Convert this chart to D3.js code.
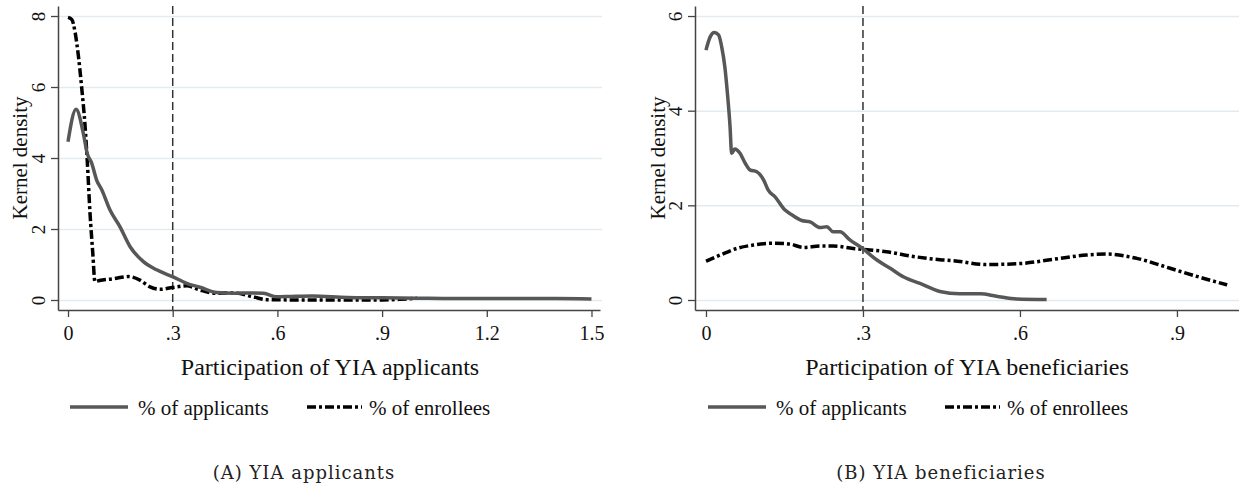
<!DOCTYPE html>
<html>
  <head>
    <script src="https://cdnjs.cloudflare.com/ajax/libs/d3/7.8.5/d3.min.js"></script>
    <meta charset="utf-8">
    <title>Kernel density</title>
    <style>
      body { margin: 0; background: #fff; }
      svg text { font-family: "Liberation Serif", "Times New Roman", serif; fill: #111; }
    </style>
  </head>
  <body>
    <script>
      // panel A: participation of YIA applicants
      var appA_x = [0, .023, .044, .055, .068, .082, .097, .12, .149, .178, .216, .254, .299, .34, .378, .426, .473, .52, .56, .598, .64, .7, .8, .9, 1.0, 1.1, 1.2, 1.3, 1.4, 1.5];
      var appA_y = [4.46, 5.37, 4.69, 4.13, 3.85, 3.38, 3.1, 2.54, 2.06, 1.5, 1.08, .85, .66, .47, .36, .21, .19, .2, .19, .09, .1, .11, .07, .06, .05, .04, .04, .04, .04, .03];
      var enrA_x = [0, .011, .02, .03, .039, .049, .055, .063, .071, .077, .09, .13, .173, .206, .235, .264, .299, .34, .378, .426, .473, .53, .57, .7, .8, .9, .95, 1.0];
      var enrA_y = [7.96, 7.9, 7.56, 6.85, 6.0, 4.88, 3.94, 2.45, 1.32, .52, .55, .6, .66, .56, .37, .3, .35, .4, .28, .19, .2, .09, .01, 0, 0, 0, .02, .05];
      // panel B: participation of YIA beneficiaries
      var appB_x = [0, .008, .016, .024, .03, .036, .041, .046, .049, .055, .065, .075, .084, .097, .11, .119, .132, .151, .164, .183, .199, .218, .231, .243, .256, .275, .299, .326, .352, .377, .409, .447, .485, .524, .555, .594, .651];
      var appB_y = [5.28, 5.56, 5.65, 5.6, 5.35, 4.93, 4.36, 3.66, 3.1, 3.19, 3.1, 2.89, 2.75, 2.71, 2.54, 2.32, 2.18, 1.9, 1.8, 1.68, 1.65, 1.53, 1.55, 1.44, 1.44, 1.27, 1.09, .85, .67, .49, .35, .18, .13, .13, .08, .02, .01];
      var enrB_x = [0, .027, .059, .09, .129, .161, .186, .218, .243, .281, .3, .345, .396, .447, .473, .536, .6, .664, .727, .766, .823, .887, .95, .996];
      var enrB_y = [.82, .95, 1.09, 1.16, 1.2, 1.18, 1.11, 1.14, 1.14, 1.09, 1.07, 1.02, .92, .85, .83, .75, .77, .86, .95, .97, .88, .67, .46, .32];

      var xTicksA = [0, .3, .6, .9, 1.2, 1.5];
      var yTicksA = [0, 2, 4, 6, 8];
      var xTicksB = [0, .3, .6, .9];
      var yTicksB = [0, 2, 4, 6];
      var cutoff = 0.3;
      var seriesNames = ["% of applicants", "% of enrollees"];

      var svg = d3.select("body").append("svg")
                  .attr("width", 1239)
                  .attr("height", 488);

      // .3 style labels, no leading zero
      var fmtX = function (d) { return d === 0 ? "0" : d3.format(".1f")(d).replace(/^0/, ""); };
      var fmtY = d3.format("d");

      function pair(xs, ys) {
        return xs.map(function (x, i) { return [x, ys[i]]; });
      }

      function drawPanel(p) {
        var g = svg.append("g");
        var x = d3.scaleLinear().domain(p.xDomain).range(p.xRange);
        var y = d3.scaleLinear().domain(p.yDomain).range([310, 6]);

        // grid
        g.append("g")
         .attr("transform", "translate(" + p.xRange[0] + ",0)")
         .call(d3.axisLeft(y).tickValues(p.yTicks).tickSize(-(p.gridEnd - p.xRange[0])).tickFormat(""))
         .call(function (s) {
           s.select(".domain").remove();
           s.selectAll("line").attr("stroke", "#e1ebf0").attr("stroke-width", 1.5);
         });

        // y axis
        g.append("g")
         .attr("transform", "translate(" + p.xRange[0] + ",0)")
         .call(d3.axisLeft(y).tickValues(p.yTicks).tickSize(7).tickSizeOuter(0).tickFormat(fmtY))
         .call(function (s) {
           s.select(".domain").attr("stroke", "#444").attr("stroke-width", 1.5);
           s.selectAll(".tick line").attr("stroke", "#444").attr("stroke-width", 1.3);
           s.selectAll(".tick text")
            .attr("x", null).attr("dy", null)
            .attr("transform", "translate(-13,0) rotate(-90)")
            .attr("text-anchor", "middle")
            .style("font-size", "19px")
            .style("font-family", "Liberation Serif");
         });

        // x axis
        g.append("g")
         .attr("transform", "translate(0,310)")
         .call(d3.axisBottom(x).tickValues(p.xTicks).tickSize(7).tickSizeOuter(0).tickFormat(fmtX))
         .call(function (s) {
           s.select(".domain").attr("stroke", "#444").attr("stroke-width", 1.5);
           s.selectAll(".tick line").attr("stroke", "#444").attr("stroke-width", 1.3);
           s.selectAll(".tick text")
            .attr("dy", null).attr("y", 30)
            .style("font-size", "20px")
            .style("font-family", "Liberation Serif");
         });

        // cutoff line
        g.append("line")
         .attr("x1", x(cutoff)).attr("x2", x(cutoff))
         .attr("y1", 6).attr("y2", 310)
         .attr("stroke", "#333").attr("stroke-width", 1.5)
         .attr("stroke-dasharray", "8,4");

        var line = d3.line()
                     .x(function (d) { return x(d[0]); })
                     .y(function (d) { return y(d[1]); })
                     .curve(d3.curveMonotoneX);

        g.append("path")
         .datum(pair(p.encX, p.encY))
         .attr("d", line)
         .attr("fill", "none")
         .attr("stroke", "#000")
         .attr("stroke-width", 3.5)
         .attr("stroke-dasharray", "9,3,3,3");

        g.append("path")
         .datum(pair(p.appX, p.appY))
         .attr("d", line)
         .attr("fill", "none")
         .attr("stroke", "#575757")
         .attr("stroke-width", 3.5)
         .attr("stroke-linejoin", "round");

        // axis titles
        g.append("text")
         .attr("transform", "translate(" + p.yTitleX + ",158) rotate(-90)")
         .attr("text-anchor", "middle")
         .style("font-size", "21px")
         .text("Kernel density");

        g.append("text")
         .attr("x", (p.xRange[0] + p.gridEnd) / 2)
         .attr("y", 375)
         .attr("text-anchor", "middle")
         .style("font-size", "24px")
         .text(p.xTitle);

        // legend
        var lg = g.append("g").attr("transform", "translate(" + p.legendX + ",407)");
        lg.append("line").attr("x1", 0).attr("x2", 58).attr("y1", 0).attr("y2", 0)
          .attr("stroke", "#575757").attr("stroke-width", 3.5);
        lg.append("text").attr("x", 68).attr("y", 8).style("font-size", "21px").text(seriesNames[0]);
        lg.append("line").attr("x1", p.legendGap).attr("x2", p.legendGap + 55).attr("y1", 0).attr("y2", 0)
          .attr("stroke", "#000").attr("stroke-width", 3.5).attr("stroke-dasharray", "9,3,3,3");
        lg.append("text").attr("x", p.legendGap + 62).attr("y", 8).style("font-size", "21px").text(seriesNames[1]);

        // caption
        g.append("text")
         .attr("x", p.captionX)
         .attr("y", 479)
         .attr("text-anchor", "middle")
         .style("font-family", "'DejaVu Serif', serif")
         .style("font-size", "18px")
         .style("letter-spacing", "1px")
         .style("fill", "#222")
         .text(p.caption);
      }

      drawPanel({
        xDomain: [-0.0287, 1.5244], xRange: [58, 600], gridEnd: 602,
        yDomain: [-0.2817, 8.282],
        xTicks: xTicksA, yTicks: yTicksA,
        appX: appA_x, appY: appA_y, encX: enrA_x, encY: enrA_y,
        yTitleX: 27, xTitle: "Participation of YIA applicants",
        legendX: 70, legendGap: 237,
        caption: "(A) YIA applicants", captionX: 304
      });

      drawPanel({
        xDomain: [-0.021, 1.0186], xRange: [695, 1239], gridEnd: 1239,
        yDomain: [-0.2113, 6.212],
        xTicks: xTicksB, yTicks: yTicksB,
        appX: appB_x, appY: appB_y, encX: enrB_x, encY: enrB_y,
        yTitleX: 665, xTitle: "Participation of YIA beneficiaries",
        legendX: 708, legendGap: 237,
        caption: "(B) YIA beneficiaries", captionX: 941
      });
    </script>
  </body>
</html>
